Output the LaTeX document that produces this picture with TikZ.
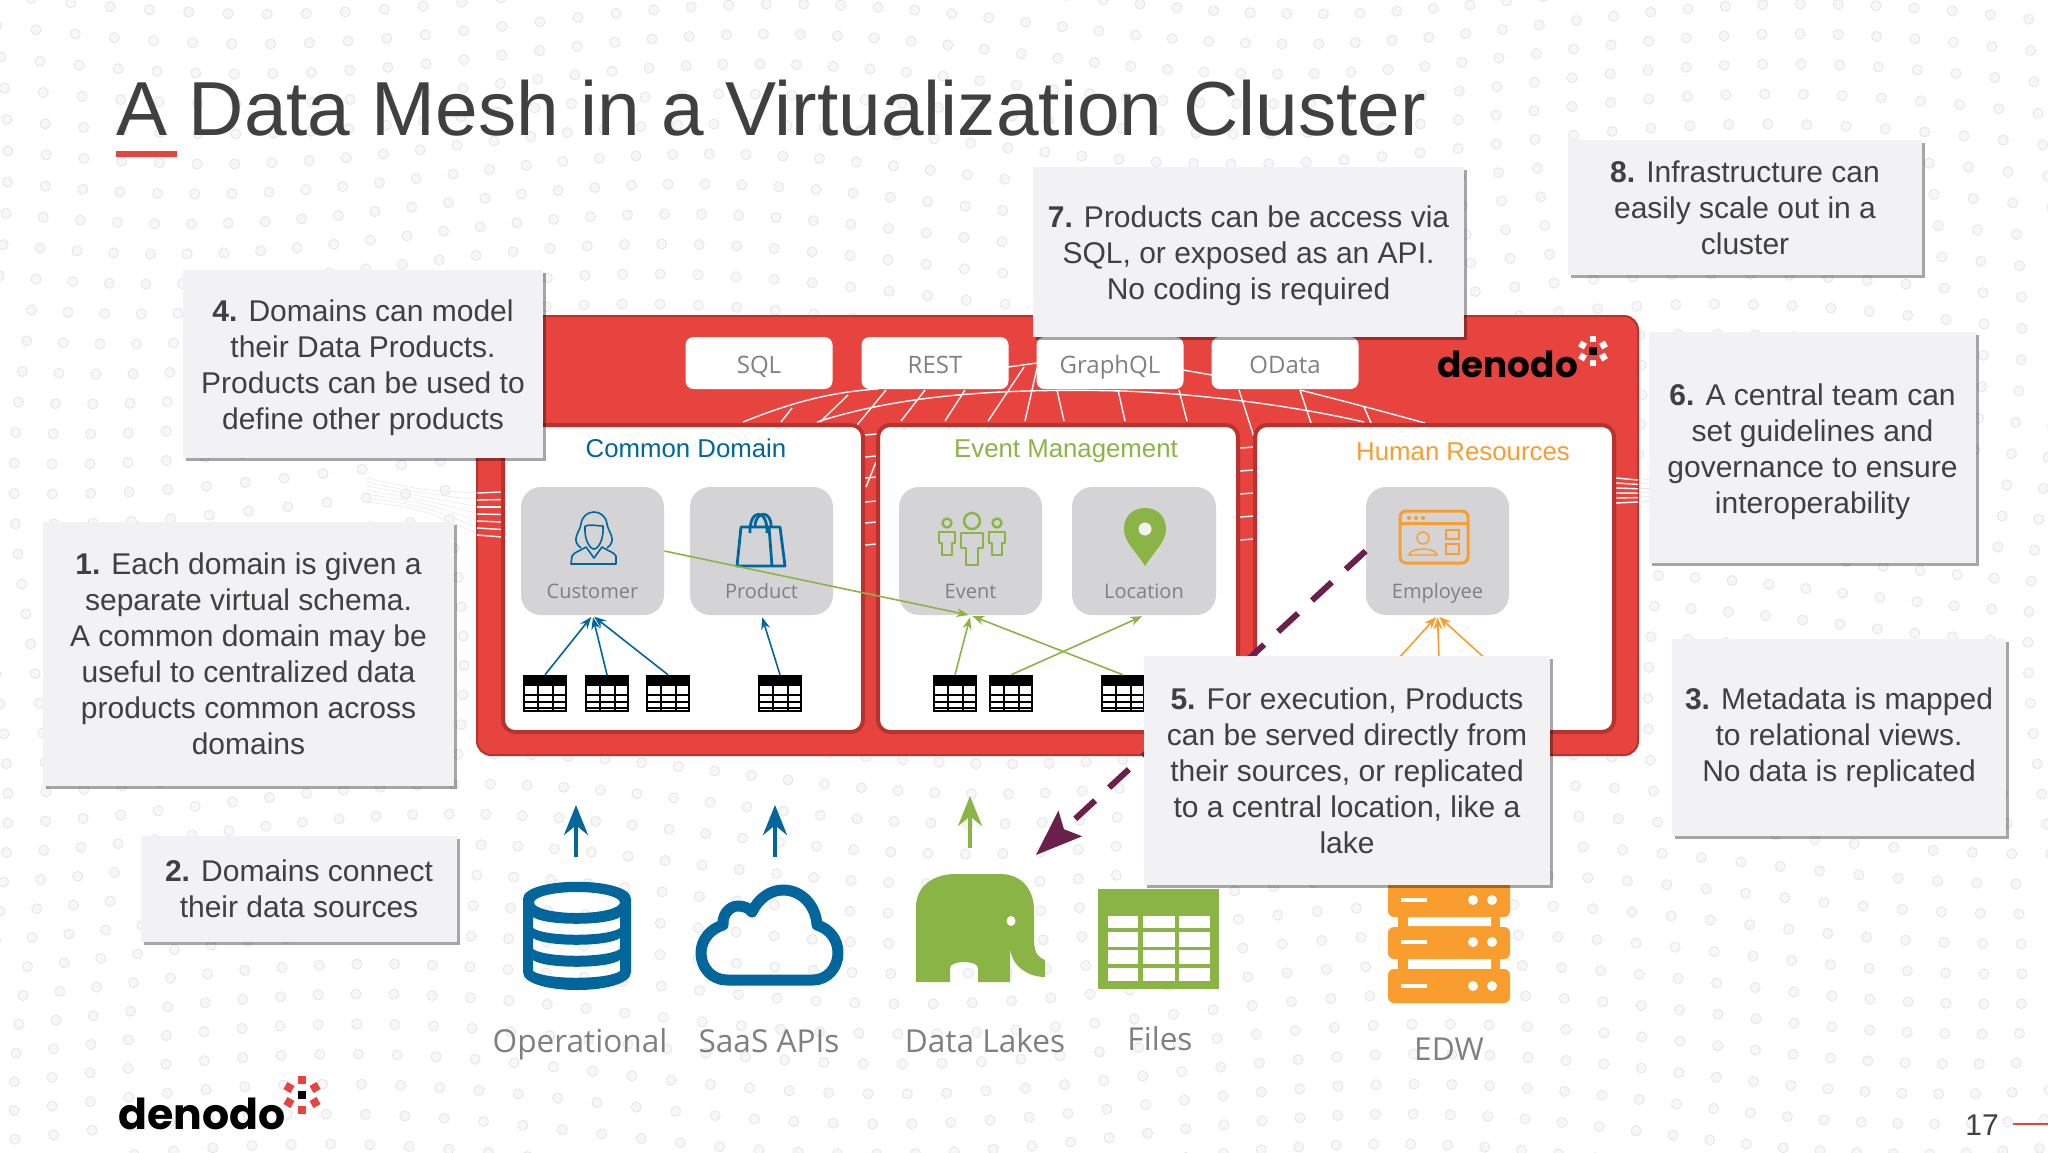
\documentclass[tikz,border=0pt]{standalone}
\usepackage{fontspec}
\usetikzlibrary{arrows.meta,shadows}
\setmainfont{Liberation Sans}
\newfontfamily\labelFont{Open Sans}
\newfontfamily\logoFont{Poppins}
\definecolor{textColor}{HTML}{404040}
\definecolor{labelColor}{HTML}{808080}
\definecolor{frameRed}{HTML}{E8443F}
\definecolor{frameDark}{HTML}{B8322E}
\definecolor{tileGray}{HTML}{D4D4D6}
\definecolor{noteGray}{HTML}{F2F1F3}
\definecolor{domainBlue}{HTML}{00669C}
\definecolor{domainGreen}{HTML}{8AB446}
\definecolor{domainOrange}{HTML}{F99D2F}
\definecolor{lakePurple}{HTML}{6B1F4D}
\tikzstyle{slide} = [x = .5pt, y = -.5pt]
\tikzstyle{bgDot} = [draw=black!10, fill=black!3, line width=.4pt]
\tikzstyle{noteBox} = [fill=noteGray, inner sep=0pt, drop shadow={shadow xshift=1.5pt, shadow yshift=-1.5pt, fill=black, opacity=.35}]
\tikzstyle{noteText} = [text=textColor, align=center, inner sep=0pt, font=\fontsize{15}{18}\selectfont]
\tikzstyle{domainBox} = [draw=frameDark, fill=white, line width=2pt, rounded corners=6pt]
\tikzstyle{domainText} = [text height=10pt, text depth=3pt, font=\fontsize{12.9}{16}\selectfont]
\tikzstyle{apiBox} = [fill=white, rounded corners=4pt, text=labelColor, inner sep=0pt, minimum height=26pt, minimum width=73.5pt, text height=12pt, text depth=2pt, font=\labelFont\fontsize{12}{14}\selectfont]
\tikzstyle{tileBox} = [fill=tileGray, rounded corners=10pt, inner sep=0pt, minimum height=64pt]
\tikzstyle{tileText} = [text=labelColor, inner sep=0pt, text height=8pt, text depth=3pt, font=\labelFont\fontsize{10}{12}\selectfont]
\tikzstyle{tableBox} = [draw=black, fill=white, line width=1.2pt, inner sep=0pt, minimum width=21pt, minimum height=17.5pt]
\tikzstyle{sourceText} = [text=labelColor, inner sep=0pt, text height=12pt, text depth=4pt, font=\labelFont\fontsize{15.8}{18}\selectfont]
\tikzstyle{thinArrow} = [line width=.8pt, shorten >=1pt, -{Stealth[length=6pt, width=4.5pt]}]
\tikzstyle{upArrow} = [line width=2pt, -{Stealth[length=15pt, width=12pt]}]
\tikzstyle{meshLine} = [white, line width=.7pt]
\tikzstyle{logoText} = [inner sep=0pt, anchor=base west]
\newcommand{\noteNode}[7][0]{
  \node [noteBox, minimum width={(#5-#3)*.5pt}, minimum height={(#6-#4)*.5pt}] (#2) at ({(#3+#5)/2},{(#4+#6)/2}) {};
  \node [noteText] (#2Text) at ({(#3+#5)/2},{(#4+#6)/2+#1}) {#7};
}
\newcommand{\domainFrame}[3]{\draw [domainBox] (#2,425) rectangle (#3,732) node [midway] (#1) {};}
\newcommand{\tileNode}[4]{
  \node [tileBox, minimum width={(#3-#2)*.5pt}] (#1) at ({(#2+#3)/2},551) {};
  \node [tileText] (#1Text) at ({(#2+#3)/2},593) {#4};
}
\newcommand{\tableIcon}[2]{
  \node [tableBox] (#1) at (#2+22,693.5) {};
  \fill (#2,675) rectangle (#2+44,686);
  \foreach \rowLine in {695,702,708} {
    \draw [line width=.7pt] (#2,\rowLine) -- (#2+44,\rowLine);
  }
  \foreach \colLine in {15,30} {
    \draw [line width=.7pt] (#2+\colLine,686) -- (#2+\colLine,712);
  }
}
\newcommand{\personIcon}[8]{
  \draw [domainGreen, line width=1.2pt, line join=round] (#1,#2) circle [radius=#3];
  \draw [domainGreen, line width=1.2pt, line join=round] (#1-#4,#6) -- (#1+#4,#6) -- (#1+#4,#7) -- (#1+#5,#7) -- (#1+#5,#8) -- (#1-#5,#8) -- (#1-#5,#7) -- (#1-#4,#7) -- cycle;
}
\newcommand{\serverUnit}[3]{
  \fill [domainOrange, rounded corners=3pt] (1388,#1) rectangle (1510,#2);
  \fill [white] (1401,#3-2) rectangle (1427,#3+2);
  \fill [white] (1473,#3) circle [radius=5] (1492,#3) circle [radius=5];
}
\newcommand{\logoMark}[4]{
  \foreach \markX/\markY in {0/-1,0/1,-.87/-.5,.87/-.5,-.87/.5,.87/.5} {
    \fill [#4, rotate around={30*\markX/.87:(#1+#3*\markX,#2+#3*\markY)}] (#1+#3*\markX-#3*.27,#2+#3*\markY-#3*.27) rectangle (#1+#3*\markX+#3*.27,#2+#3*\markY+#3*.27);
  }
}
\begin{document}
\begin{tikzpicture}[slide]
  \useasboundingbox (0,0) rectangle (2048,1152);
  \fill [white] (0,0) rectangle (2048,1152);

  % dotted backdrop
  \foreach \row in {0,...,39} {
    \foreach \column in {0,...,55} {
      \pgfmathsetmacro{\dotX}{\column*38 - 8 + 16*sin(\row*17 + \column*5)}
      \pgfmathsetmacro{\dotY}{\row*30 - 6 + 20*sin(\column*13 + \row*4)}
      \draw [bgDot] (\dotX,\dotY) circle [radius=5];
    }
  }

  % title
  \node [inner sep=0pt, anchor=base west, text=textColor, font=\fontsize{38.3}{44}\selectfont] (slideTitle) at (116,135) {A Data Mesh in a Virtualization Cluster};
  \fill [frameRed] (116,151) rectangle (177,157);

  % red frame and mesh
  \foreach \fanY in {0,...,6} {
    \draw [black!8, line width=.3pt] (366,{478+\fanY*4}) .. controls (420,{490+\fanY*3}) .. (480,{493+\fanY*7});
  }
  \foreach \fanY in {0,...,5} {
    \draw [black!10, line width=.3pt] (1638,{478+\fanY*5}) -- (1650,{480+\fanY*4});
  }
  \draw [draw=frameDark, fill=frameRed, line width=1pt, rounded corners=7pt] (477,316) rectangle (1638,755);
  \draw [meshLine] (743,422) .. controls (790,403) and (830,392) .. (878,389);
  \draw [meshLine] (817,422) .. controls (900,395) and (1000,388) .. (1123,391) .. controls (1200,394) and (1290,405) .. (1364,422);
  \draw [meshLine] (1008,367) -- (1037,363);
  \draw [meshLine] (1183,370) -- (1212,375);
  \draw [meshLine] (1300,390) .. controls (1340,400) and (1385,412) .. (1425,423);
  \foreach \meshA/\meshB/\meshC/\meshD in {792/408/781/422, 848/395/820/422, 886/390/857/425, 925/390/901/421, 965/390/945/421, 1024/367/988/421, 1037/368/1025/421, 1057/390/1064/421, 1118/390/1125/421, 1179/390/1187/421, 1239/390/1254/437, 1300/390/1311/423, 1364/407/1371/423, 876/462/866/487} {
    \draw [meshLine] (\meshA,\meshB) -- (\meshC,\meshD);
  }
  \foreach \meshY in {435,457,478,502,523,545} {
    \draw [meshLine] (865,\meshY) -- (877,\meshY-1);
  }
  \foreach \meshY in {448,471,494,517,540} {
    \draw [meshLine] (1240,\meshY) -- (1254,\meshY-1);
  }
  \foreach \meshY in {0,...,6} {
    \draw [meshLine] (477,{493+\meshY*7}) -- (502,{492+\meshY*7.5});
  }
  \foreach \meshY in {0,...,5} {
    \draw [meshLine] (1616,{478+\meshY*5}) -- (1638,{480+\meshY*4.4});
  }

  % api boxes
  \node [apiBox] (sqlBox) at (759,363) {SQL};
  \node [apiBox] (restBox) at (935,363) {REST};
  \node [apiBox] (graphqlBox) at (1110,363) {GraphQL};
  \node [apiBox] (odataBox) at (1285,363) {OData};

  % top logo
  \node [logoText, font=\logoFont\bfseries\fontsize{17.9}{22}\selectfont] (frameLogo) at (1437,377) {denodo};
  \fill [black] (1589,347) rectangle (1597,355);
  \logoMark{1593}{351}{12}{white}

  % domains
  \domainFrame{commonDomain}{503}{863}
  \domainFrame{eventDomain}{878}{1238}
  \domainFrame{humanDomain}{1255}{1614}
  \node [domainText, text=domainBlue] (commonTitle) at (686,450) {Common Domain};
  \node [domainText, text=domainGreen] (eventTitle) at (1066,450) {Event Management};
  \node [domainText, text=domainOrange] (humanTitle) at (1463,453) {Human Resources};

  % views
  \tileNode{customerTile}{521}{664}{Customer}
  \tileNode{productTile}{690}{833}{Product}
  \tileNode{eventTile}{899}{1042}{Event}
  \tileNode{locationTile}{1072}{1216}{Location}
  \tileNode{employeeTile}{1366}{1509}{Employee}

  % view icons
  \begin{scope}[domainBlue, line width=.8pt, line join=round]
    \draw (581,548) .. controls (570,540) and (580,532) .. (581,524) .. controls (583,508) and (605,508) .. (607,524) .. controls (608,532) and (618,540) .. (607,548);
    \draw (585,526) .. controls (584,540) and (590,549) .. (594,549) .. controls (598,549) and (604,540) .. (603,526) .. controls (597,526) and (591,524) .. (585,526);
    \draw (571,564) -- (572,556) .. controls (574,552) and (582,550) .. (586,547) -- (594,558) -- (602,547) .. controls (606,550) and (614,552) .. (616,556) -- (616,564) -- cycle;
    \draw [line width=1.4pt] (737,566) -- (741,527) -- (780,527) -- (785,566) -- cycle (769,527) -- (772,566);
    \draw [line width=1.4pt] (750,533) .. controls (749,508) and (768,508) .. (767,533);
    \draw [line width=1.4pt] (755,527) .. controls (755,510) and (772,510) .. (771,527);
  \end{scope}
  \personIcon{972}{521}{8}{11}{6}{533}{548}{565}
  \personIcon{947}{523}{4.5}{8}{5}{532}{543}{555}
  \personIcon{997}{523}{4.5}{8}{5}{532}{543}{555}
  \fill [domainGreen] (1145,566) .. controls (1135,550) and (1124,542) .. (1124,529) .. controls (1124,515) and (1134,508) .. (1145,508) .. controls (1156,508) and (1166,515) .. (1166,529) .. controls (1166,542) and (1155,550) .. (1145,566) -- cycle;
  \fill [tileGray!30!white] (1145,529) circle [radius=6.5];
  \begin{scope}[domainOrange, line width=1.5pt]
    \draw [rounded corners=3pt] (1400,511) rectangle (1468,563);
    \draw (1400,523) -- (1468,523);
    \fill (1409,518) circle [radius=2] (1416,518) circle [radius=2] (1423,518) circle [radius=2];
    \draw [line width=1pt] (1446,530) rectangle (1459,539) (1446,544) rectangle (1459,554);
    \draw [line width=.7pt] (1423,538) circle [radius=6] (1409,555) .. controls (1410,547) and (1436,547) .. (1437,555) -- cycle;
  \end{scope}

  % tables
  \tableIcon{customerTableA}{523}
  \tableIcon{customerTableB}{585}
  \tableIcon{customerTableC}{646}
  \tableIcon{productTable}{758}
  \tableIcon{eventTableA}{933}
  \tableIcon{eventTableB}{989}
  \tableIcon{locationTable}{1101}

  % view arrows
  \foreach \tableName in {customerTableA,customerTableB,customerTableC} {
    \draw [thinArrow, domainBlue] (\tableName.north) -- (customerTile.south);
  }
  \draw [thinArrow, domainBlue] (productTable.north) -- (productTile.south);
  \draw [thinArrow, domainGreen] (customerTile.east) -- (eventTile.south);
  \draw [thinArrow, domainGreen] (eventTableA.north) -- (eventTile.south);
  \draw [thinArrow, domainGreen] (locationTable.north) -- (eventTile.south);
  \draw [thinArrow, domainGreen] (eventTableB.north) -- (locationTile.south);
  \coordinate (humanFootA) at (1370,690);
  \coordinate (humanFootB) at (1440,690);
  \coordinate (humanFootC) at (1520,690);
  \foreach \footName in {humanFootA,humanFootB,humanFootC} {
    \draw [thinArrow, domainOrange] (\footName) -- (employeeTile.south);
  }

  % sources
  \fill [domainBlue, even odd rule] (523,899) .. controls (523,876) and (631,876) .. (631,899) -- (631,972) .. controls (631,996) and (523,996) .. (523,972) -- cycle
    (577,902.5) ellipse [x radius=43, y radius=10.5]
    (533,917) .. controls (545,926) and (608,926) .. (620,917) -- (620,928) .. controls (608,937) and (545,937) .. (533,928) -- cycle
    (533,938) .. controls (545,947) and (608,947) .. (620,938) -- (620,949) .. controls (608,958) and (545,958) .. (533,949) -- cycle
    (533,960) .. controls (545,969) and (608,969) .. (620,960) -- (620,971) .. controls (608,980) and (545,980) .. (533,971) -- cycle;
  \draw [domainBlue, line width=5.5pt, line join=round] (727,980) .. controls (712,980) and (701,968) .. (701,953) .. controls (701,940) and (710,929) .. (723,925) .. controls (722,914) and (730,906) .. (738,906) .. controls (744,906) and (749,908) .. (752,912) .. controls (758,899) and (770,890) .. (783,890) .. controls (802,890) and (816,906) .. (817,925) .. controls (830,929) and (838,940) .. (838,953) .. controls (838,968) and (827,980) .. (813,980) -- cycle;
  \fill [domainGreen] (916,982) -- (916,907) .. controls (916,885) and (935,874) .. (955,874) -- (1000,874) .. controls (1022,874) and (1034,890) .. (1034,910) -- (1034,940) .. controls (1034,955) and (1040,958) .. (1045,960) -- (1045,977) .. controls (1030,977) and (1012,968) .. (1010,948) -- (1010,982) -- (978,982) -- (978,968) .. controls (978,960) and (950,960) .. (950,968) -- (950,982) -- cycle;
  \fill [white] (1011,921) ellipse [x radius=4.5, y radius=5];
  \fill [domainGreen] (1098,889) rectangle (1219,989);
  \foreach \cellA/\cellB in {1108/1138,1143/1175,1179/1210} {
    \foreach \cellC/\cellD in {916/928,932/947,950/964,968/981} {
      \fill [white] (\cellA,\cellC) rectangle (\cellB,\cellD);
    }
  }
  \fill [domainOrange] (1398,910) rectangle (1500,975);
  \fill [white] (1408,917) rectangle (1491,926) (1408,959) rectangle (1491,969);
  \serverUnit{875}{917}{900}
  \serverUnit{927}{959}{942}
  \serverUnit{969}{1003}{986}
  \node [sourceText] (operationalText) at (580,1044) {Operational};
  \node [sourceText] (saasText) at (769,1044) {SaaS APIs};
  \node [sourceText] (lakeText) at (985,1044) {Data Lakes};
  \node [sourceText] (filesText) at (1160,1042) {Files};
  \node [sourceText] (edwText) at (1449,1052) {EDW};

  % source arrows
  \coordinate (operationalFoot) at (576,857);
  \coordinate (operationalHead) at (576,805);
  \coordinate (saasFoot) at (775,857);
  \coordinate (saasHead) at (775,805);
  \coordinate (lakeFoot) at (970,848);
  \coordinate (lakeHead) at (970,796);
  \draw [upArrow, domainBlue] (operationalFoot) -- (operationalHead);
  \draw [upArrow, domainBlue] (saasFoot) -- (saasHead);
  \draw [upArrow, domainGreen] (lakeFoot) -- (lakeHead);
  \coordinate (lakeTip) at (1036,855);
  \draw [lakePurple, line width=3pt, dash pattern=on 13.5pt off 9.5pt, -{Stealth[length=23pt, width=17pt, inset=4pt]}] (employeeTile.west) -- (lakeTip);

  % notes
  \noteNode[4]{noteFour}{183}{270}{543}{458}{\textbf{4.} Domains can model\\their Data Products.\\Products can be used to\\define other products}
  \noteNode{noteOne}{43}{522}{454}{786}{\textbf{1.} Each domain is given a\\separate virtual schema.\\A common domain may be\\useful to centralized data\\products common across\\domains}
  \noteNode{noteTwo}{141}{836}{457}{942}{\textbf{2.} Domains connect\\their data sources}
  \noteNode[4]{noteSeven}{1033}{167}{1464}{337}{\textbf{7.} Products can be access via\\SQL, or exposed as an API.\\No coding is required}
  \noteNode{noteEight}{1568}{140}{1922}{275}{\textbf{8.} Infrastructure can\\easily scale out in a\\cluster}
  \noteNode[4]{noteSix}{1649}{332}{1976}{563}{\textbf{6.} A central team can\\set guidelines and\\governance to ensure\\interoperability}
  \noteNode{noteThree}{1672}{639}{2006}{836}{\textbf{3.} Metadata is mapped\\to relational views.\\No data is replicated}
  \noteNode{noteFive}{1144}{656}{1550}{885}{\textbf{5.} For execution, Products\\can be served directly from\\their sources, or replicated\\to a central location, like a\\lake}

  % footer
  \node [logoText, font=\logoFont\bfseries\fontsize{21.3}{26}\selectfont] (footerLogo) at (118,1129) {denodo};
  \fill [black] (298,1091) rectangle (306,1099);
  \logoMark{302}{1095}{15}{frameRed}
  \node [inner sep=0pt, anchor=base, text=textColor, font=\fontsize{15}{18}\selectfont] (pageNumber) at (1982,1135) {17};
  \draw [frameRed, line width=1pt] (2013,1124) -- (2048,1124);
\end{tikzpicture}
\end{document}
